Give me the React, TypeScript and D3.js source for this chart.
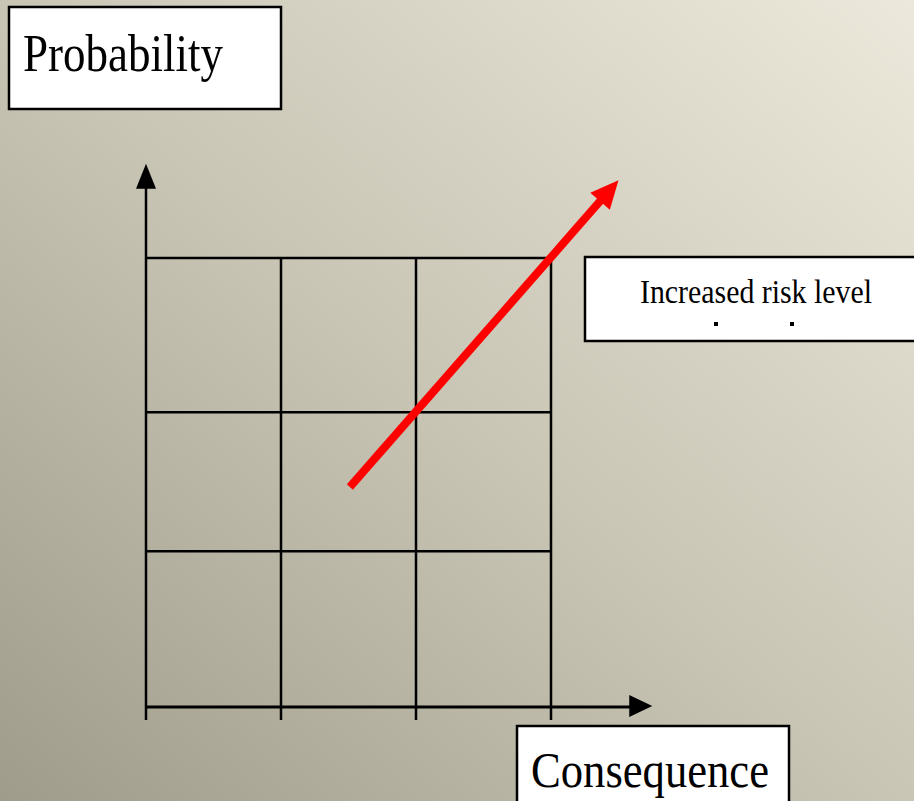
import React from 'react';
import * as d3 from 'd3';

// grid boundaries of the 3x3 risk matrix
const consequenceBounds = [0, 1, 2, 3];
const probabilityBounds = [0, 1.04, 1.97, 3];
// red "increased risk" arrow, start and tip in data units
const riskArrow = [
  { c: 1.51, p: 1.47 },
  { c: 3.5, p: 3.52 },
];
const axisEnds = { c: 3.75, p: 3.63 };
const yTitle = 'Probability';
const xTitle = 'Consequence';
const legendText = 'Increased risk level';

const W = 914;
const H = 801;

const App: React.FC = () => {
  const x = d3.scaleLinear().domain([0, 3]).range([146, 551]);
  const y = d3.scaleLinear().domain([0, 3]).range([707, 258]);

  const x0 = x(0);
  const y0 = y(0);
  const tickDrop = 13;

  // black axis arrowheads
  const yTip = y(axisEnds.p);
  const xTip = x(axisEnds.c);
  const yHead = `${x0},${yTip} ${x0 - 10},${yTip + 25} ${x0 + 10},${yTip + 25}`;
  const xHead = `${xTip},${y0 - 1} ${xTip - 23},${y0 - 12} ${xTip - 23},${y0 + 10}`;

  // red arrow
  const [a, b] = riskArrow;
  const ax = x(a.c), ay = y(a.p), bx = x(b.c), by = y(b.p);
  const ang = Math.atan2(by - ay, bx - ax);
  const headLen = 28;
  const headHalf = 13;
  const baseX = bx - headLen * Math.cos(ang);
  const baseY = by - headLen * Math.sin(ang);
  const nx = -Math.sin(ang), ny = Math.cos(ang);
  const redHead = `${bx},${by} ${baseX + nx * headHalf},${baseY + ny * headHalf} ${baseX - nx * headHalf},${baseY - ny * headHalf}`;
  const line = d3.line<[number, number]>();

  return (
    <svg width={W} height={H} style={{ position: 'absolute', left: 0, top: 0 }}
      fontFamily="'Liberation Serif', 'Times New Roman', serif">
      <defs>
        <linearGradient id="bg" x1="1" y1="0" x2="0" y2="1">
          <stop offset="0" stopColor="#ece8db" />
          <stop offset="0.5" stopColor="#c9c6b6" />
          <stop offset="1" stopColor="#9f9c8c" />
        </linearGradient>
      </defs>
      <rect width={W} height={H} fill="url(#bg)" />

      {/* grid */}
      <g stroke="#000" strokeWidth={2.5}>
        {probabilityBounds.slice(1).map((p, i) => (
          <line key={'h' + i} x1={x0} x2={x(3)} y1={y(p)} y2={y(p)} />
        ))}
        {consequenceBounds.map((c, i) => (
          <line key={'v' + i} x1={x(c)} x2={x(c)} y1={i === 0 ? yTip + 20 : y(3)} y2={y0 + tickDrop} />
        ))}
        <line x1={x0} x2={xTip - 20} y1={y0} y2={y0} strokeWidth={3} />
      </g>
      <polygon points={yHead} fill="#000" />
      <polygon points={xHead} fill="#000" />

      {/* red arrow */}
      <path d={line([[ax, ay], [baseX + 4 * Math.cos(ang), baseY + 4 * Math.sin(ang)]]) || ''}
        stroke="#ff0000" strokeWidth={8} fill="none" />
      <polygon points={redHead} fill="#ff0000" />

      {/* Probability label */}
      <rect x={9} y={7} width={272} height={102} fill="#fff" stroke="#000" strokeWidth={2.5} />
      <text x={23} y={71} fontSize={52} textLength={200} lengthAdjust="spacingAndGlyphs">{yTitle}</text>

      {/* legend box */}
      <rect x={585} y={257} width={340} height={84} fill="#fff" stroke="#000" strokeWidth={2.5} />
      <text x={640} y={303} fontSize={33} textLength={232} lengthAdjust="spacingAndGlyphs">{legendText}</text>
      <rect x={714} y={322} width={4} height={4} fill="#000" />
      <rect x={790} y={322} width={4} height={4} fill="#000" />

      {/* Consequence label */}
      <rect x={517} y={726} width={272} height={90} fill="#fff" stroke="#000" strokeWidth={2.5} />
      <text x={531} y={787} fontSize={50} textLength={238} lengthAdjust="spacingAndGlyphs">{xTitle}</text>
    </svg>
  );
};

export default App;
